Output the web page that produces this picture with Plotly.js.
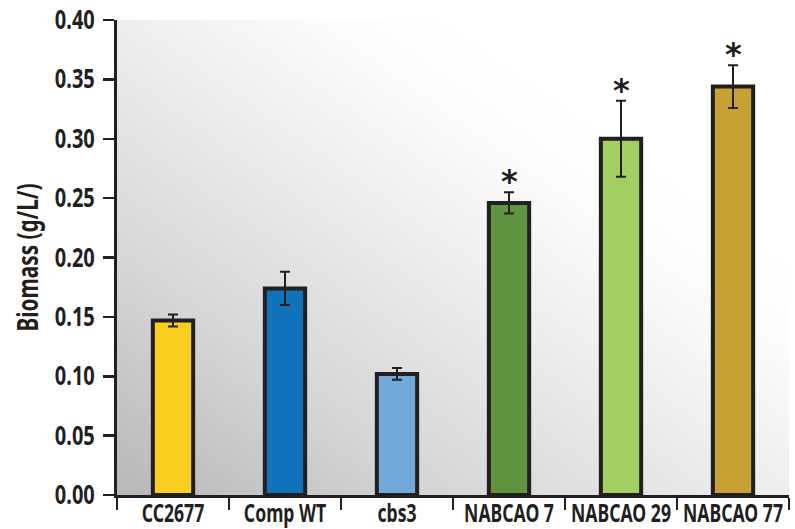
<!DOCTYPE html>
<html>
<head>
<meta charset="utf-8">
<script src="https://cdn.plot.ly/plotly-3.0.1.min.js"></script>
<style>
  html, body { margin: 0; padding: 0; background: #ffffff; }
  #chart { width: 795px; height: 529px; }
</style>
</head>
<body>
<div id="chart"></div>
<script>
// ---- data ----
const categories = ["CC2677", "Comp WT", "cbs3", "NABCAO 7", "NABCAO 29", "NABCAO 77"];
const biomass    = [0.147, 0.174, 0.102, 0.246, 0.300, 0.344];
const errors     = [0.005, 0.014, 0.005, 0.009, 0.032, 0.018];
const significant = [false, false, false, true, true, true];
const barColors  = ["#F9CE1F", "#0F72BA", "#72A9DB", "#5F9441", "#A3CE62", "#C5A233"];
const yTickValues = [0, 0.05, 0.10, 0.15, 0.20, 0.25, 0.30, 0.35, 0.40];
const yTickLabels = ["0.00", "0.05", "0.10", "0.15", "0.20", "0.25", "0.30", "0.35", "0.40"];

const ink = "#231F20";
const face = "Noto Sans, DejaVu Sans, sans-serif";

// background gradient for the plot area (grey bottom-left to white top-right)
const svgBg =
  '<svg xmlns="http://www.w3.org/2000/svg" width="672" height="475" preserveAspectRatio="none">' +
  '<defs><linearGradient id="g" x1="0" y1="1" x2="1" y2="0">' +
  '<stop offset="0" stop-color="#b6b7b9"/>' +
  '<stop offset="0.25" stop-color="#d5d6d8"/>' +
  '<stop offset="0.5" stop-color="#eeeeef"/>' +
  '<stop offset="0.66" stop-color="#fcfcfc"/>' +
  '<stop offset="0.74" stop-color="#ffffff"/>' +
  '<stop offset="1" stop-color="#ffffff"/>' +
  '</linearGradient></defs>' +
  '<rect x="0" y="0" width="672" height="475" fill="url(#g)"/></svg>';
const bgSource = "data:image/svg+xml;charset=utf-8," + encodeURIComponent(svgBg);

const barTrace = {
  type: "bar",
  x: categories,
  y: biomass,
  width: 0.36,
  marker: { color: barColors, line: { color: ink, width: 4 } },
  error_y: { type: "data", array: errors, visible: true, color: ink, thickness: 2, width: 5 },
  hoverinfo: "x+y",
  showlegend: false
};

const annotations = [];
categories.forEach((c, i) => {
  if (significant[i]) {
    annotations.push({
      x: c, y: biomass[i] + errors[i], xref: "x", yref: "y",
      text: "*", showarrow: false,
      xanchor: "center", yanchor: "middle", yshift: 11,
      font: { family: "DejaVu Sans, sans-serif", size: 32, color: ink, weight: "bold" }
    });
  }
});

const layout = {
  width: 795, height: 529,
  margin: { l: 117, r: 6, t: 20, b: 34, pad: 0 },
  paper_bgcolor: "#ffffff",
  plot_bgcolor: "rgba(0,0,0,0)",
  images: [{
    source: bgSource, xref: "paper", yref: "paper",
    x: 0, y: 1, sizex: 1, sizey: 1, xanchor: "left", yanchor: "top",
    sizing: "stretch", layer: "below"
  }],
  xaxis: {
    type: "category",
    range: [-0.5, 5.5],
    showline: true, linecolor: ink, linewidth: 3,
    ticks: "outside", tickson: "boundaries", ticklen: 12, tickwidth: 2.5, tickcolor: ink,
    showgrid: false, zeroline: false,
    tickangle: 0,
    tickfont: { family: face, size: 25, color: ink, weight: "bold" },
    ticklabelstandoff: -6,
    automargin: false,
    fixedrange: true
  },
  yaxis: {
    range: [0, 0.40],
    tickvals: yTickValues, ticktext: yTickLabels,
    showline: true, linecolor: ink, linewidth: 3,
    ticks: "outside", ticklen: 11, tickwidth: 2.5, tickcolor: ink,
    showgrid: false, zeroline: false,
    tickfont: { family: face, size: 26, color: ink, weight: "bold" },
    ticklabelstandoff: 3,
    title: { text: "Biomass (g/L/)", standoff: 4,
             font: { family: face, size: 28, color: ink, weight: "bold" } },
    automargin: false,
    fixedrange: true
  },
  annotations: annotations
};

// The reference uses a bold condensed face; narrow the label glyphs horizontally to match it.
function squeeze(t, k) {
  const ax = parseFloat(t.getAttribute("x")) || 0;
  const ay = parseFloat(t.getAttribute("y")) || 0;
  const prev = t.getAttribute("transform") || "";
  t.setAttribute("transform",
    prev + " translate(" + ax + "," + ay + ") scale(" + k + ",1) translate(" + (-ax) + "," + (-ay) + ")");
}
function widthOf(sel, label) {
  const t = Array.from(document.querySelectorAll(sel)).find(e => e.textContent === label);
  return t ? t.getComputedTextLength() : null;
}
function condense() {
  const wy = widthOf("#chart .ytick text", "0.40");
  const wx = widthOf("#chart .xtick text", "NABCAO 29");
  const title = document.querySelector("#chart .ytitle");
  const ky = wy ? Math.min(1, 40 / wy) : 1;
  const kx = wx ? Math.min(1, 100 / wx) : 1;
  const kt = title ? Math.min(1, 148 / title.getComputedTextLength()) : 1;
  document.querySelectorAll("#chart .ytick text").forEach(t => squeeze(t, ky));
  document.querySelectorAll("#chart .xtick text").forEach(t => squeeze(t, kx));
  if (title) {
    squeeze(title, kt);
    // keep the same gap between the title and the tick labels as in the reference
    let left = Infinity;
    document.querySelectorAll("#chart .ytick text").forEach(t => {
      left = Math.min(left, t.getBoundingClientRect().left);
    });
    const r = title.getBoundingClientRect();
    const dx = (left - 9) - r.right;
    title.setAttribute("transform", "translate(" + dx.toFixed(2) + ",0) " + title.getAttribute("transform"));
  }
}

Plotly.newPlot("chart", [barTrace], layout, { displayModeBar: false, staticPlot: true })
  .then(condense);
</script>
</body>
</html>
